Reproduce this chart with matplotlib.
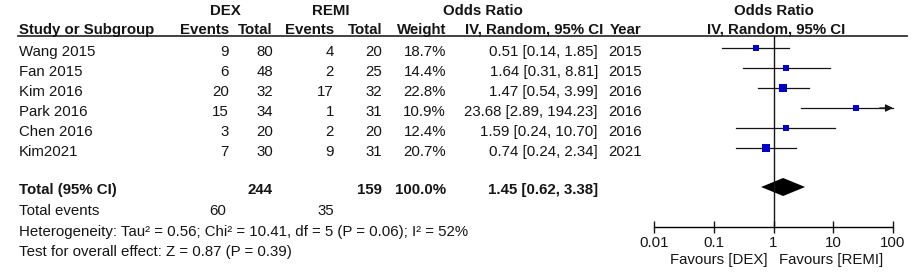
import numpy as np
import matplotlib
matplotlib.use("Agg")
from matplotlib import pyplot as plt

plt.rcParams['font.family'] = ['Liberation Sans', 'DejaVu Sans']

studies = ['Wang 2015', 'Fan 2015', 'Kim 2016', 'Park 2016', 'Chen 2016', 'Kim2021']
dex_events = [9, 6, 20, 15, 3, 7]
dex_total = [80, 48, 32, 34, 20, 30]
remi_events = [4, 2, 17, 1, 2, 9]
remi_total = [20, 25, 32, 31, 20, 31]
weights = [18.7, 14.4, 22.8, 10.9, 12.4, 20.7]
odds = [0.51, 1.64, 1.47, 23.68, 1.59, 0.74]
ci_low = [0.14, 0.31, 0.54, 2.89, 0.24, 0.24]
ci_high = [1.85, 8.81, 3.99, 194.23, 10.70, 2.34]
years = [2015, 2015, 2016, 2016, 2016, 2021]

total_dex, total_remi = 244, 159
events_dex, events_remi = 60, 35
pooled_or, pooled_lo, pooled_hi = 1.45, 0.62, 3.38
heterogeneity = 'Heterogeneity: Tau² = 0.56; Chi² = 10.41, df = 5 (P = 0.06); I² = 52%'
overall = 'Test for overall effect: Z = 0.87 (P = 0.39)'

W, H = 913, 273
fig = plt.figure(figsize=(W / 100, H / 100), dpi=100)
ax = fig.add_axes([0, 0, 1, 1])
ax.set_xlim(0, W)
ax.set_ylim(H, 0)
ax.axis('off')

fs = 10.8
col = '#151515'
kw = dict(fontsize=fs, color=col, va='center')

def row_y(i):
    return 52 + i * 20

# headers
ax.text(225, 11, 'DEX', ha='center', fontweight='bold', **kw)
ax.text(331, 11, 'REMI', ha='center', fontweight='bold', **kw)
ax.text(483, 11, 'Odds Ratio', ha='center', fontweight='bold', **kw)
ax.text(774, 11, 'Odds Ratio', ha='center', fontweight='bold', **kw)
hy = 30
ax.text(19, hy, 'Study or Subgroup', ha='left', fontweight='bold', **kw)
ax.text(229, hy, 'Events', ha='right', fontweight='bold', **kw)
ax.text(273, hy, 'Total', ha='right', fontweight='bold', **kw)
ax.text(334, hy, 'Events', ha='right', fontweight='bold', **kw)
ax.text(382, hy, 'Total', ha='right', fontweight='bold', **kw)
ax.text(446, hy, 'Weight', ha='right', fontweight='bold', **kw)
ax.text(603, hy, 'IV, Random, 95% CI', ha='right', fontweight='bold', **kw)
ax.text(642, hy, 'Year', ha='right', fontweight='bold', **kw)
ax.text(776, hy, 'IV, Random, 95% CI', ha='center', fontweight='bold', **kw)
ax.plot([18, 907], [36, 36], color='#333333', lw=1.3)

for i, s in enumerate(studies):
    y = row_y(i)
    ax.text(19, y, s, ha='left', **kw)
    ax.text(229, y, str(dex_events[i]), ha='right', **kw)
    ax.text(273, y, str(dex_total[i]), ha='right', **kw)
    ax.text(334, y, str(remi_events[i]), ha='right', **kw)
    ax.text(382, y, str(remi_total[i]), ha='right', **kw)
    ax.text(446, y, f'{weights[i]:.1f}%', ha='right', **kw)
    ax.text(598, y, f'{odds[i]:.2f} [{ci_low[i]:.2f}, {ci_high[i]:.2f}]', ha='right', **kw)
    ax.text(642, y, str(years[i]), ha='right', **kw)

ty = 190
ax.text(19, ty, 'Total (95% CI)', ha='left', fontweight='bold', **kw)
ax.text(273, ty, str(total_dex), ha='right', fontweight='bold', **kw)
ax.text(382, ty, str(total_remi), ha='right', fontweight='bold', **kw)
ax.text(446, ty, '100.0%', ha='right', fontweight='bold', **kw)
ax.text(598, ty, f'{pooled_or:.2f} [{pooled_lo:.2f}, {pooled_hi:.2f}]', ha='right', fontweight='bold', **kw)
ax.text(19, 211, 'Total events', ha='left', **kw)
ax.text(226, 211, str(events_dex), ha='right', **kw)
ax.text(334, 211, str(events_remi), ha='right', **kw)
ax.text(19, 232, heterogeneity, ha='left', **kw)
ax.text(19, 252, overall, ha='left', **kw)

# forest plot axes: x from 654 to 893 px, log scale 0.01..100
x0, x1 = 654, 893
fa = fig.add_axes([x0 / W, 0, (x1 - x0) / W, 1])
fa.set_xscale('log')
fa.set_xlim(0.01, 100)
fa.set_ylim(H, 0)
fa.patch.set_alpha(0)
for sp in ['top', 'left', 'right']:
    fa.spines[sp].set_visible(False)
axis_y = 227
fa.spines['bottom'].set_position(('data', axis_y))
fa.spines['bottom'].set_linewidth(1.0)
fa.set_yticks([])
fa.set_xticks([0.01, 0.1, 1, 10, 100])
fa.set_xticklabels(['0.01', '0.1', '1', '10', '100'])
fa.xaxis.set_minor_locator(matplotlib.ticker.NullLocator())
fa.tick_params(axis='x', direction='inout', length=9, width=1.0, labelsize=fs,
               colors=col, pad=2)
fa.axvline(1, ymin=(H - axis_y) / H, ymax=(H - 36) / H, color=col, lw=1.0)

# marks sit a few pixels above the text baseline centre, as in the source
mark_shift = -4
for i in range(len(studies)):
    y = row_y(i) + mark_shift
    hi = min(ci_high[i], 100)
    fa.plot([ci_low[i], hi], [y, y], color=col, lw=0.9, clip_on=False)
    if ci_high[i] > 100:
        fa.annotate('', xy=(100, y), xytext=(60, y),
                    arrowprops=dict(arrowstyle='-|>', color=col, lw=0.9,
                                    mutation_scale=11, shrinkA=0, shrinkB=0))
    side = 0.2 * weights[i] + 3.0
    fa.plot(odds[i], y, marker='s', ms=side * 0.72, color='#0000c8',
            markeredgewidth=0, clip_on=False)

dy = ty - 3
fa.fill([pooled_lo, pooled_or, pooled_hi, pooled_or],
        [dy, dy - 9, dy, dy + 9], color='black', lw=0)

fig.text(768 / W, 1 - 260 / H, 'Favours [DEX]', ha='right', va='center',
         fontsize=fs, color=col)
fig.text(779 / W, 1 - 260 / H, 'Favours [REMI]', ha='left', va='center',
         fontsize=fs, color=col)

fig.savefig('out.png', dpi=100)
